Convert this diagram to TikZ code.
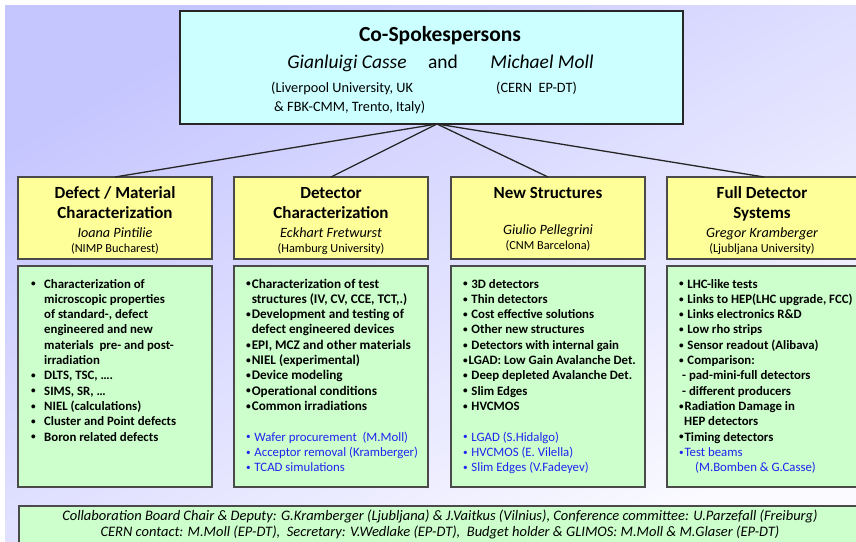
\documentclass[tikz,border=0pt]{standalone}
\usepackage{fontspec}
\setmainfont{Carlito}
\definecolor{bgA}{HTML}{C6C6FF}
\definecolor{bgB}{HTML}{FBFBFF}
\definecolor{cyanfill}{HTML}{CCFFFF}
\definecolor{yelfill}{HTML}{FFFF99}
\definecolor{grnfill}{HTML}{CCFFCC}
\definecolor{edge}{HTML}{4A4A4A}
\definecolor{txtblue}{HTML}{2222F0}
\newcommand{\fs}[2]{\fontsize{#1}{#2}\selectfont}
\newcommand{\bu}{\makebox[0pt][l]{\hspace{0.9pt}\raisebox{1.2pt}{\scalebox{0.72}{•}}}\phantom{•}}
\newcommand{\bl}{\makebox[14pt][l]{\bu}}
\newcommand{\ind}{\hspace*{14pt}}
\begin{document}
\begin{tikzpicture}[x=1pt,y=-1pt,
  box/.style={draw=edge, line width=1.2pt, inner sep=0pt, outer sep=0pt, anchor=north west},
  topbox/.style={box, draw=black!85, line width=1.1pt, fill=cyanfill, minimum width=503pt, minimum height=113pt},
  ybox/.style={box, fill=yelfill, minimum width=194pt, minimum height=82pt},
  gbox/.style={box, fill=grnfill, minimum width=194pt, minimum height=221pt},
  link/.style={draw=black!85, line width=1.3pt},
  head/.style={anchor=base, inner sep=0pt, font=\bfseries\fs{17}{20}},
  who/.style={anchor=base, inner sep=0pt, font=\itshape\fs{14.2}{16}},
  aff/.style={anchor=base, inner sep=0pt, font=\fs{12.3}{14}},
  spk/.style={anchor=base west, inner sep=0pt, font=\fs{14.3}{16}},
  list/.style={anchor=base west, inner sep=0pt, font=\bfseries\fs{12.8}{15.3}},
  note/.style={anchor=base, inner sep=0pt, font=\itshape\fs{14.5}{16}}
]
\useasboundingbox (0,0) rectangle (856,541);
\shade[top color=bgA, bottom color=bgB, shading angle=30] (5,5) rectangle (870,560);

% top box
\node[topbox] (top) at (180,11) {};
\coordinate (hub) at (437,124);
\node[anchor=base, inner sep=0pt, font=\bfseries\fs{21.5}{24}] (title) at (440,41) {Co-Spokespersons};
\node[anchor=base, inner sep=0pt, font=\itshape\fs{19.5}{22}] (n1) at (347,68) {Gianluigi Casse};
\node[anchor=base, inner sep=0pt, font=\fs{19.5}{22}] (andw) at (443,68) {and};
\node[anchor=base, inner sep=0pt, font=\itshape\fs{19.5}{22}] (n2) at (542,68) {Michael Moll};
\node[spk] (a1) at (271,92) {(Liverpool University, UK};
\node[spk] (a2) at (274,111) {\& FBK-CMM, Trento, Italy)};
\node[spk] (a3) at (496,92) {(CERN\ \ EP-DT)};

% yellow boxes
\node[ybox] (y1) at (18,177) {};
\node[ybox] (y2) at (234,177) {};
\node[ybox] (y3) at (451,177) {};
\node[ybox] (y4) at (667,177) {};

\draw[link] (hub) -- (y1.north);
\draw[link] (hub) -- (y2.north);
\draw[link] (hub) -- (y3.north);
\draw[link] (hub) -- (y4.north);

\node[head] (h1a) at (115,198) {Defect / Material};
\node[head] (h1b) at (115,218) {Characterization};
\node[who] (w1) at (115,237) {Ioana Pintilie};
\node[aff] (f1) at (115,252) {(NIMP Bucharest)};

\node[head] (h2a) at (331,198) {Detector};
\node[head] (h2b) at (331,218) {Characterization};
\node[who] (w2) at (331,237) {Eckhart Fretwurst};
\node[aff] (f2) at (331,252) {(Hamburg University)};

\node[head] (h3a) at (548,198) {New Structures};
\node[who] (w3) at (548,234) {Giulio Pellegrini};
\node[aff] (f3) at (548,249) {(CNM Barcelona)};

\node[head] (h4a) at (762,198) {Full Detector};
\node[head] (h4b) at (762,218) {Systems};
\node[who] (w4) at (762,237) {Gregor Kramberger};
\node[aff] (f4) at (762,252) {(Ljubljana University)};

% green boxes
\node[gbox] (g1) at (18,266) {};
\node[gbox] (g2) at (234,266) {};
\node[gbox] (g3) at (451,266) {};
\node[gbox] (g4) at (667,266) {};

\node[list] (l1) at (30,288) {\begin{tabular}[t]{@{}l@{}}
\bl Characterization of\\
\ind microscopic properties\\
\ind of standard-, defect\\
\ind engineered and new\\
\ind materials\ \ pre- and post-\\
\ind irradiation\\
\bl DLTS, TSC, ….\\
\bl SIMS, SR, …\\
\bl NIEL (calculations)\\
\bl Cluster and Point defects\\
\bl Boron related defects
\end{tabular}};

\node[list] (l2) at (245,288) {\begin{tabular}[t]{@{}l@{}}
{\fs{13.2}{15.3}\bu Characterization of test}\\
{\fs{13.2}{15.3}\hphantom{\bu}structures (IV, CV, CCE, TCT,.)}\\
{\fs{13.2}{15.3}\bu Development and testing of}\\
{\fs{13.2}{15.3}\hphantom{\bu}defect engineered devices}\\
{\fs{13.2}{15.3}\bu EPI, MCZ and other materials}\\
{\fs{13.2}{15.3}\bu NIEL (experimental)}\\
{\fs{13.2}{15.3}\bu Device modeling}\\
{\fs{13.2}{15.3}\bu Operational conditions}\\
{\fs{13.2}{15.3}\bu Common irradiations}\\
\\
{\mdseries\color{txtblue}\bu\ Wafer procurement\ \ (M.Moll)}\\
{\mdseries\color{txtblue}\bu\ Acceptor removal (Kramberger)}\\
{\mdseries\color{txtblue}\bu\ TCAD simulations}
\end{tabular}};

\node[list] (l3) at (462,288) {\begin{tabular}[t]{@{}l@{}}
\bu\ 3D detectors\\
\bu\ Thin detectors\\
\bu\ Cost effective solutions\\
\bu\ Other new structures\\
\bu\ Detectors with internal gain\\
\bu LGAD: Low Gain Avalanche Det.\\
\bu\ Deep depleted Avalanche Det.\\
\bu\ Slim Edges\\
\bu\ HVCMOS\\
\\
{\mdseries\color{txtblue}\bu\ LGAD (S.Hidalgo)}\\
{\mdseries\color{txtblue}\bu\ HVCMOS (E. Vilella)}\\
{\mdseries\color{txtblue}\bu\ Slim Edges (V.Fadeyev)}
\end{tabular}};

\node[list] (l4) at (678,288) {\begin{tabular}[t]{@{}l@{}}
\bu\ LHC-like tests\\
\bu\ Links to HEP(LHC upgrade, FCC)\\
\bu\ Links electronics R\&D\\
\bu\ Low rho strips\\
\bu\ Sensor readout (Alibava)\\
\bu\ Comparison:\\
\hspace*{4pt}- pad-mini-full detectors\\
\hspace*{4pt}- different producers\\
\bu Radiation Damage in\\
\hspace*{6pt}HEP detectors\\
\bu Timing detectors\\
{\mdseries\color{txtblue}\bu Test beams}\\
{\mdseries\color{txtblue}\hspace*{17pt}(M.Bomben \& G.Casse)}
\end{tabular}};

% bottom box
\node[box, fill=grnfill, minimum width=850pt, minimum height=45pt] (bot) at (19,506) {};
\node[note] (b1) at (440,520) {Collaboration Board Chair \& Deputy: G.Kramberger (Ljubljana) \& J.Vaitkus (Vilnius), Conference committee: U.Parzefall (Freiburg)};
\node[note] (b2) at (440,536) {CERN contact: M.Moll (EP-DT),\ \ Secretary: V.Wedlake (EP-DT),\ \ Budget holder \& GLIMOS: M.Moll \& M.Glaser (EP-DT)};
\end{tikzpicture}
\end{document}
